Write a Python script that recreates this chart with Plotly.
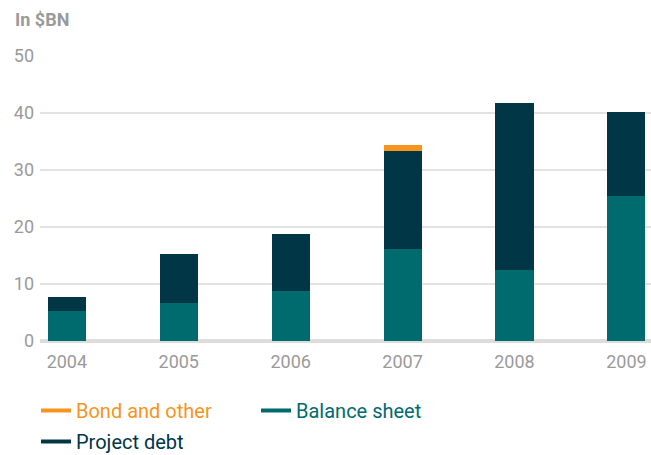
import plotly.graph_objects as go

years = ["2004", "2005", "2006", "2007", "2008", "2009"]
balance_sheet = [5.3, 6.7, 8.8, 16.1, 12.5, 25.4]
project_debt = [2.4, 8.6, 10.0, 17.2, 29.3, 14.8]
bond_other = [0, 0, 0, 1.1, 0, 0]

C_BAL = "#006B6E"
C_PROJ = "#003645"
C_BOND = "#F7941D"
GRAY = "#9a9a9a"
FONT = "Roboto, Liberation Sans, sans-serif"

fig = go.Figure()
for name, vals, col in [("Balance sheet", balance_sheet, C_BAL),
                        ("Project debt", project_debt, C_PROJ),
                        ("Bond and other", bond_other, C_BOND)]:
    fig.add_bar(x=years, y=vals, marker=dict(color=col, line=dict(width=0)),
                width=0.34, showlegend=False, name=name)

for name, col, lg in [("Bond and other", C_BOND, "legend"),
                      ("Balance sheet", C_BAL, "legend"),
                      ("Project debt", C_PROJ, "legend2")]:
    fig.add_scatter(x=[None], y=[None], mode="lines", line=dict(color=col, width=4),
                    name=f"<span style='color:{col}'>{name}</span>", legend=lg)

fig.update_layout(
    barmode="stack",
    width=651, height=455,
    margin=dict(l=40, r=0, t=56, b=114),
    plot_bgcolor="white", paper_bgcolor="white",
    font=dict(family=FONT, size=17, color=GRAY),
    xaxis=dict(type="category", range=[-0.24, 5.22], showgrid=False,
               tickfont=dict(size=18, color=GRAY), ticks="", showline=False,
               ticklabelstandoff=8),
    yaxis=dict(range=[0, 50], dtick=10, showgrid=True, gridcolor="#e2e2e2", gridwidth=2,
               zeroline=True, zerolinecolor="#dcdcdc", zerolinewidth=4,
               tickfont=dict(size=18, color=GRAY), ticklabelstandoff=5),
    legend=dict(orientation="h", x=36 / 651, xref="container", y=1 - 391 / 455, yref="container",
                xanchor="left", yanchor="top", traceorder="normal",
                font=dict(size=20), entrywidth=175, bgcolor="rgba(0,0,0,0)"),
    legend2=dict(orientation="h", x=36 / 651, xref="container", y=1 - 422 / 455, yref="container",
                 xanchor="left", yanchor="top",
                 font=dict(size=20), bgcolor="rgba(0,0,0,0)"),
    annotations=[dict(text="<b>In $BN</b>", xref="paper", yref="paper",
                      x=(13 - 40) / 611, y=1 + (56 - 19) / 285,
                      xanchor="left", yanchor="middle", showarrow=False,
                      font=dict(size=18, color=GRAY))],
)
fig.write_html("out.html")
